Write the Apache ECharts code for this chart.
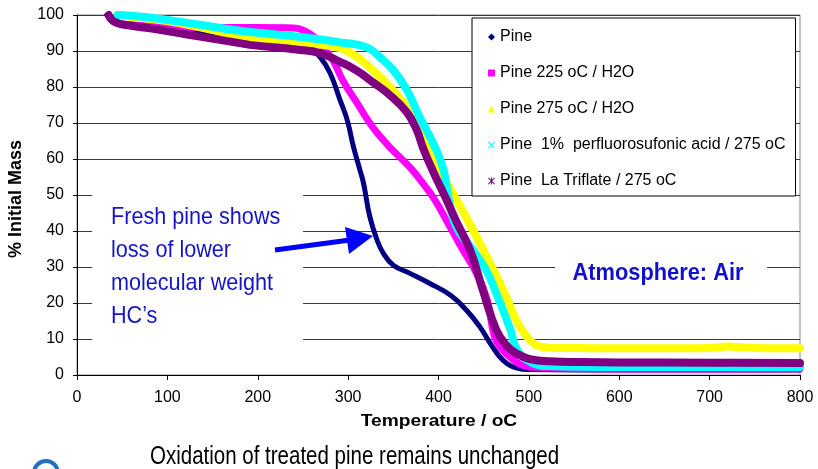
<!DOCTYPE html>
<html><head><meta charset="utf-8">
<script src="https://cdn.jsdelivr.net/npm/echarts@6/dist/echarts.min.js"></script>
<style>html,body{margin:0;padding:0;background:#fff}#c{width:818px;height:469px}</style>
</head><body><div id="c"></div>
<script>
// ---- data ----
var seriesNames = ['Pine', 'Pine 225 oC / H2O', 'Pine 275 oC / H2O', 'Pine  1%  perfluorosufonic acid / 275 oC', 'Pine  La Triflate / 275 oC'];
var xTicks = [0, 100, 200, 300, 400, 500, 600, 700, 800];
var yTicks = [0, 10, 20, 30, 40, 50, 60, 70, 80, 90, 100];

var pineX = [33, 40, 50, 80, 120, 160, 200, 240, 254, 269, 280, 291, 299, 306, 313, 317, 324, 332, 339, 350, 368, 390, 413, 431, 446, 457, 471, 487, 500, 600, 700, 800];
var pineY = [100, 98, 97.2, 96.5, 95.8, 94.8, 93.5, 92.3, 91.7, 88.3, 83.9, 76.4, 70.8, 63.3, 57, 53.3, 44, 37.5, 33.8, 30.5, 28.3, 25.5, 22.2, 18, 13.3, 8.9, 4.2, 1.9, 1.5, 1.4, 1.4, 1.4];

var p225X = [35, 40, 50, 100, 150, 200, 240, 254, 263, 272, 283, 294, 310, 327, 346, 368, 385, 396, 413, 427, 442, 454, 462, 471, 479, 490, 500, 550, 600, 700, 800];
var p225Y = [100, 98.5, 97.5, 96.8, 96.5, 96.5, 96.4, 95.3, 93.8, 91.1, 87.5, 81.9, 75.5, 68.9, 63.3, 57.8, 52.5, 48.6, 41, 34.7, 28.3, 20.8, 10.6, 6.9, 5, 3, 2.2, 1.8, 1.6, 1.6, 1.7];

var p275X = [45, 60, 100, 136, 180, 220, 254, 291, 310, 327, 346, 365, 372, 385, 398, 405, 420, 438, 457, 475, 486, 501, 515, 530, 549, 600, 650, 700, 720, 750, 800];
var p275Y = [100, 99.5, 98.3, 96.6, 94.2, 93, 92.2, 90.8, 88.3, 84.7, 80, 74.4, 70.8, 64, 57.8, 55, 48.6, 40.3, 31, 21.7, 15.3, 9.7, 7.8, 7.5, 7.5, 7.4, 7.4, 7.5, 7.9, 7.5, 7.4];

var acidX = [45, 60, 80, 136, 180, 220, 250, 291, 321, 335, 350, 365, 379, 394, 405, 412, 420, 438, 453, 465, 479, 487, 504, 520, 600, 700, 800];
var acidY = [100, 99.8, 99.3, 97.3, 95.6, 94.6, 93.8, 92.4, 91, 88.3, 84.7, 79.2, 71.7, 64.4, 57.5, 48, 41, 34.7, 29, 22, 13, 7, 3.3, 2.5, 2.2, 2.2, 2.2];

var triflX = [35, 42, 60, 81, 136, 180, 191, 247, 269, 291, 310, 327, 346, 365, 376, 383, 395, 409, 420, 435, 449, 464, 476, 486, 500, 523, 560, 600, 700, 800];
var triflY = [100, 98, 97, 96.3, 94, 92.2, 91.7, 90.3, 89.4, 87, 84.5, 81.4, 77.8, 73, 68, 63, 56, 48.6, 42.5, 34.7, 23.6, 12.5, 8, 6, 4.5, 3.8, 3.6, 3.5, 3.4, 3.3];

function pairs(xs, ys) { return xs.map(function (x, i) { return [x, ys[i]]; }); }

var colors = ['#000080', '#FF00FF', '#FFFF00', '#00FFFF', '#800080'];
var widths = [5, 7, 8, 8, 8];
var dataSets = [pairs(pineX, pineY), pairs(p225X, p225Y), pairs(p275X, p275Y), pairs(acidX, acidY), pairs(triflX, triflY)];
var icons = [
  'diamond',
  'rect',
  'triangle',
  'path://M0,1L1,0L5,4L9,0L10,1L6,5L10,9L9,10L5,6L1,10L0,9L4,5Z',
  'path://M0,1L1,0L4.3,3.3L4.3,0L5.7,0L5.7,3.3L9,0L10,1L6,5L10,9L9,10L5.7,6.7L5.7,10L4.3,10L4.3,6.7L1,10L0,9L4,5Z'
];

var FONT = "'Liberation Sans', Arial, sans-serif";

var chart = echarts.init(document.getElementById('c'), null, {renderer: 'canvas'});
var option = {
  animation: false,
  backgroundColor: '#fff',
  grid: {left: 77, top: 15, right: 18, bottom: 94, show: true, borderColor: '#888', borderWidth: 1, backgroundColor: 'transparent'},
  xAxis: {
    type: 'value', min: xTicks[0], max: xTicks[xTicks.length - 1], interval: 100,
    axisLine: {show: true, onZero: false, lineStyle: {color: '#000', width: 1}},
    axisTick: {show: true, length: 5, lineStyle: {color: '#000'}},
    axisLabel: {fontSize: 16, color: '#000', fontFamily: FONT, margin: 15},
    splitLine: {show: false}
  },
  yAxis: {
    type: 'value', min: yTicks[0], max: yTicks[yTicks.length - 1], interval: 10,
    axisLine: {show: true, onZero: false, lineStyle: {color: '#000', width: 1}},
    axisTick: {show: true, length: 4, lineStyle: {color: '#000'}},
    axisLabel: {fontSize: 16, color: '#000', fontFamily: FONT, margin: 13},
    splitLine: {show: true, lineStyle: {color: '#3a3a3a', width: 1}}
  },
  legend: {
    orient: 'vertical', left: 472, top: 18,
    padding: [11, 10, 7, 16],
    itemWidth: 7, itemHeight: 7, itemGap: 20,
    backgroundColor: '#fff', borderColor: '#000', borderWidth: 1,
    textStyle: {fontSize: 16, color: '#000', fontFamily: FONT},
    data: seriesNames.map(function (n, i) { return {name: n, icon: icons[i]}; })
  },
  series: seriesNames.map(function (n, i) {
    return {
      name: n, type: 'line', data: dataSets[i], showSymbol: false, symbol: 'none',
      smooth: 0.45, clip: false, z: 3 + i,
      lineStyle: {color: colors[i], width: widths[i], join: 'round', cap: 'round'},
      itemStyle: {color: colors[i]}
    };
  }),
  graphic: [
    {type: 'rect', shape: {x: 92, y: 190, width: 211, height: 152}, style: {fill: '#fff'}, z: 1},
    {type: 'rect', shape: {x: 555, y: 250, width: 212, height: 40}, style: {fill: '#fff'}, z: 1},
    {type: 'text', x: 111, y: 201, scaleX: 0.9, z: 2, style: {text: 'Fresh pine shows\nloss of lower\nmolecular weight\nHC\u2019s', font: "24px 'Liberation Sans', Arial, sans-serif", fill: '#1414C8', lineHeight: 33, textAlign: 'left', textVerticalAlign: 'top'}},
    {type: 'polyline', z: 2, shape: {points: [[275, 250], [350, 240]]}, style: {stroke: '#0000FF', lineWidth: 5}},
    {type: 'polygon', z: 2, shape: {points: [[373, 236], [345, 227], [349, 254]]}, style: {fill: '#0000FF'}},
    {type: 'text', x: 658, y: 273, scaleX: 0.91, z: 2, style: {text: 'Atmosphere: Air', font: "bold 24px 'Liberation Sans', Arial, sans-serif", fill: '#1010CC', textAlign: 'center', textVerticalAlign: 'middle'}},
    {type: 'text', x: 16, y: 199, rotation: Math.PI / 2, z: 2, style: {text: '% Initial Mass', font: "bold 18px 'Liberation Sans', Arial, sans-serif", fill: '#000', textAlign: 'center', textVerticalAlign: 'middle'}},
    {type: 'text', x: 439, y: 422, scaleX: 1.2, z: 2, style: {text: 'Temperature / oC', font: "bold 16px 'Liberation Sans', Arial, sans-serif", fill: '#000', textAlign: 'center', textVerticalAlign: 'middle'}},
    {type: 'text', x: 150, y: 457, scaleX: 0.82, z: 2, style: {text: 'Oxidation of treated pine remains unchanged', font: "25px 'Liberation Sans', Arial, sans-serif", fill: '#000', textAlign: 'left', textVerticalAlign: 'middle'}},
    {type: 'arc', z: 2, shape: {cx: 46, cy: 473, r: 12, startAngle: Math.PI * 1.0, endAngle: Math.PI * 1.95}, style: {stroke: '#1E6FC8', lineWidth: 4, fill: null}}
  ]
};
chart.setOption(option);
</script></body></html>
